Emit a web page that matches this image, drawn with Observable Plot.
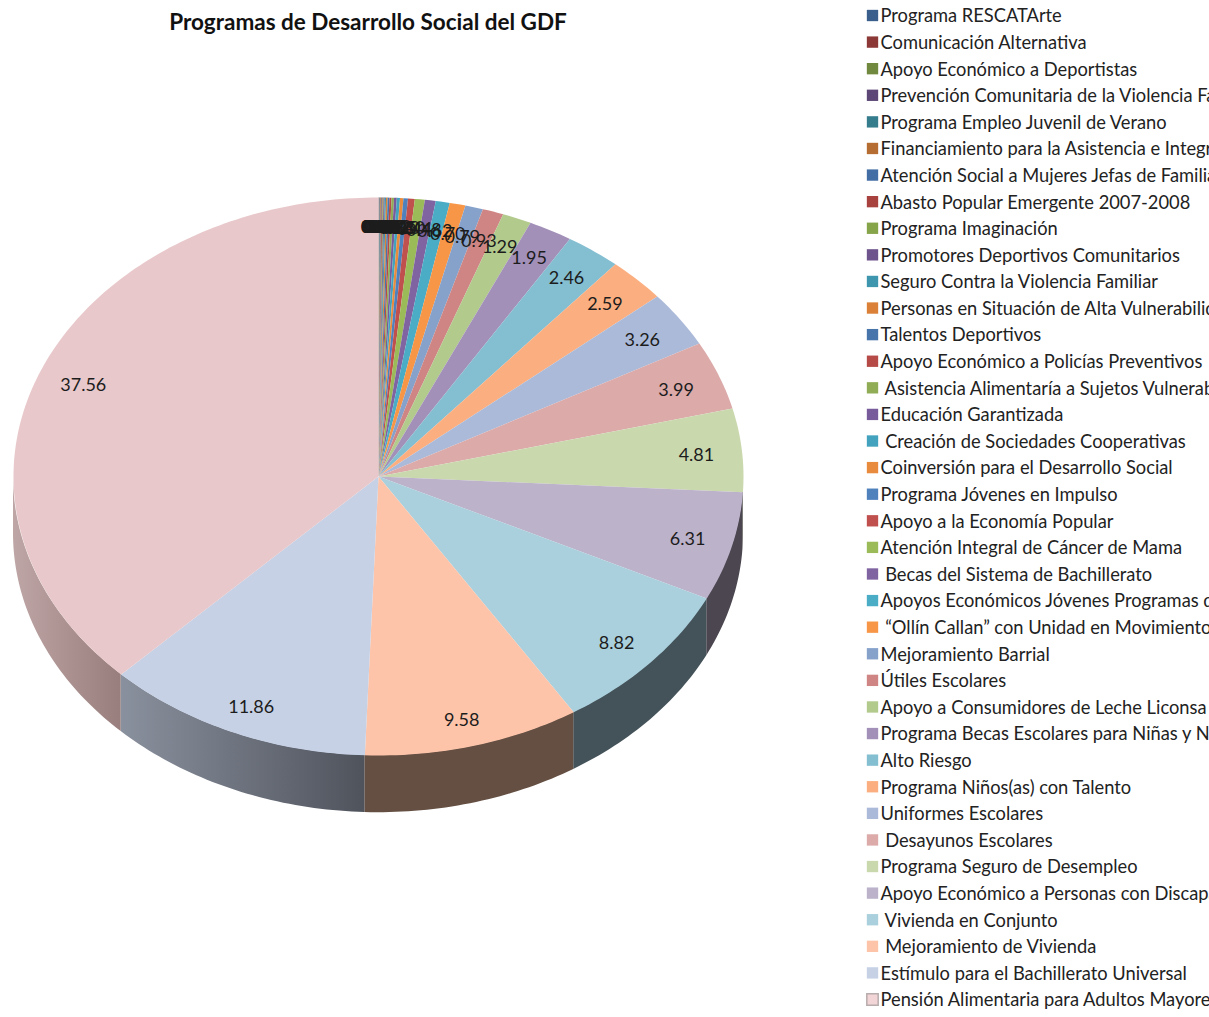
<!DOCTYPE html>
<html lang="es">
<head>
<meta charset="utf-8">
<title>Programas de Desarrollo Social del GDF</title>
<script src="https://cdn.jsdelivr.net/npm/d3@7"></script>
<script src="https://cdn.jsdelivr.net/npm/@observablehq/plot@0.6"></script>
<style>
  html, body { margin: 0; padding: 0; background: #fff; overflow: hidden; }
  #page { position: relative; width: 1209px; height: 1017px; overflow: hidden; }
  #pie { position: absolute; left: 0; top: 0; }
  #legend { position: absolute; left: 860px; top: 0; }
  #title {
    position: absolute; left: 0; top: 8px; width: 736px; margin: 0;
    text-align: center; font: 700 22.5px/28px Lato, sans-serif; color: #111;
  }
</style>
</head>
<body>
<div id="page">
  <div id="pie"></div>
  <h1 id="title">Programas de Desarrollo Social del GDF</h1>
  <div id="legend"></div>
</div>
<script>
// Programs in legend order; slices run clockwise from twelve o'clock in this order.
const programas = [
  "Programa RESCATArte",
  "Comunicación Alternativa",
  "Apoyo Económico a Deportistas",
  "Prevención Comunitaria de la Violencia Familiar",
  "Programa Empleo Juvenil de Verano",
  "Financiamiento para la Asistencia e Integración Social",
  "Atención Social a Mujeres Jefas de Familia",
  "Abasto Popular Emergente 2007-2008",
  "Programa Imaginación",
  "Promotores Deportivos Comunitarios",
  "Seguro Contra la Violencia Familiar",
  "Personas en Situación de Alta Vulnerabilidad",
  "Talentos Deportivos",
  "Apoyo Económico a Policías Preventivos",
  "\u00a0Asistencia Alimentaría a Sujetos Vulnerables",
  "Educación Garantizada",
  "\u00a0Creación de Sociedades Cooperativas",
  "Coinversión para el Desarrollo Social",
  "Programa Jóvenes en Impulso",
  "Apoyo a la Economía Popular",
  "Atención Integral de Cáncer de Mama",
  "\u00a0Becas del Sistema de Bachillerato",
  "Apoyos Económicos Jóvenes Programas de Verano",
  "\u00a0“Ollín Callan” con Unidad en Movimiento",
  "Mejoramiento Barrial",
  "Útiles Escolares",
  "Apoyo a Consumidores de Leche Liconsa",
  "Programa Becas Escolares para Niñas y Niños",
  "Alto Riesgo",
  "Programa Niños(as) con Talento",
  "Uniformes Escolares",
  "\u00a0Desayunos Escolares",
  "Programa Seguro de Desempleo",
  "Apoyo Económico a Personas con Discapacidad",
  "\u00a0Vivienda en Conjunto",
  "\u00a0Mejoramiento de Vivienda",
  "Estímulo para el Bachillerato Universal",
  "Pensión Alimentaria para Adultos Mayores"
];

const valores = [
  0.01, 0.01, 0.02, 0.02, 0.02, 0.03, 0.03, 0.04, 0.04, 0.05,
  0.06, 0.07, 0.08, 0.09, 0.11, 0.12, 0.14, 0.15, 0.20, 0.30,
  0.44, 0.48, 0.62, 0.70, 0.79, 0.93, 1.29, 1.95, 2.46, 2.59,
  3.26, 3.99, 4.81, 6.31, 8.82, 9.58, 11.86, 37.56
];

const colores = [
  "#3a5f8c", "#8c3836", "#71893f", "#5c4776", "#357d8d", "#b66d31", "#426da5", "#a8423f",
  "#86a44a", "#6e548d", "#3d96ae", "#da8137", "#4674ab", "#b54a47", "#90ac55", "#775b9b",
  "#43a2be", "#e98b3c", "#4f81bd", "#c0504d", "#9bbb59", "#8064a2", "#4bacc6", "#f79646",
  "#86a2cb", "#cf8583", "#b2ca8c", "#a290b9", "#84bed1", "#fbaf80", "#abbad9", "#dbaaa9",
  "#cad8ae", "#bcb2ca", "#aad0dd", "#fdc4aa", "#c6d1e6", "#e8c8ca"
];

// Shaded side-wall colours for the slices that reach the front of the disc.
const paredes = new Map([
  ["Programa Seguro de Desempleo", "#5a6150"],
  ["Apoyo Económico a Personas con Discapacidad", "#4b4650"],
  ["\u00a0Vivienda en Conjunto", "#445259"],
  ["\u00a0Mejoramiento de Vivienda", "#644f42"],
  ["Estímulo para el Bachillerato Universal", "url(#paredEstimulo)"],
  ["Pensión Alimentaria para Adultos Mayores", "url(#paredPension)"]
]);
const gradientes = [
  {id: "paredEstimulo", desde: "#8a919e", hasta: "#4f535c"},
  {id: "paredPension", desde: "#bfa6a6", hasta: "#987e7c"}
];

const FUENTE = "Lato, sans-serif";
const GROSOR = 0.205; // wall depth, in units of the vertical radius

const total = d3.sum(valores);
const porciones = [];
let acumulado = 0;
programas.forEach((nombre, i) => {
  const inicio = acumulado / total * 2 * Math.PI;
  acumulado += valores[i];
  const fin = acumulado / total * 2 * Math.PI;
  porciones.push({nombre, valor: valores[i], inicio, fin, medio: (inicio + fin) / 2});
});

// Outline of a slice on the unit circle, sampled along its arc.
const arco = (a, b) => {
  const pasos = Math.max(1, Math.ceil((b - a) / (Math.PI / 180)));
  return d3.range(pasos + 1).map(k => a + (b - a) * k / pasos);
};
const caras = porciones.flatMap(p => [
  {nombre: p.nombre, x: 0, y: 0},
  ...arco(p.inicio, p.fin).map(t => ({nombre: p.nombre, x: Math.sin(t), y: Math.cos(t)}))
]);

// The visible wall covers only the front half of the rim (90 to 270 degrees);
// the pension slice runs past 270 degrees, so its wall stops at the left extreme.
const muros = porciones
  .filter(p => p.fin > Math.PI / 2 && p.inicio < 3 * Math.PI / 2 && paredes.has(p.nombre))
  .map(p => ({
    fill: paredes.get(p.nombre),
    puntos: arco(Math.max(p.inicio, Math.PI / 2), Math.min(p.fin, 3 * Math.PI / 2))
      .map(t => ({x: Math.sin(t), y1: Math.cos(t), y2: Math.cos(t) - GROSOR}))
  }));

// Value labels sit just inside the rim, along each slice's middle angle.
const etiquetas = porciones.map(p => {
  const c = Math.cos(p.medio);
  return {
    x: 0.875 * Math.sin(p.medio),
    y: (0.87 + 0.03 * c * c) * c,
    texto: d3.format(".2f")(p.valor)
  };
});

const defs = () => {
  const d = d3.create("svg:defs");
  for (const g of gradientes) {
    const lg = d.append("linearGradient").attr("id", g.id);
    lg.append("stop").attr("offset", "0%").attr("stop-color", g.desde);
    lg.append("stop").attr("offset", "100%").attr("stop-color", g.hasta);
  }
  return d.node();
};

const escalaColor = {type: "ordinal", domain: programas, range: colores};

document.getElementById("pie").append(Plot.plot({
  width: 860,
  height: 1017,
  margin: 0,
  style: {background: "transparent", fontFamily: FUENTE},
  x: {domain: [-1, 1], range: [13, 743], axis: null},
  y: {domain: [-1, 1], range: [755, 197], axis: null},
  color: escalaColor,
  marks: [
    defs,
    ...muros.map(m => Plot.area(m.puntos, {x1: "x", y1: "y1", y2: "y2", fill: m.fill})),
    Plot.line(caras, {x: "x", y: "y", z: "nombre", fill: "nombre", stroke: "none", curve: "linear"}),
    Plot.text(etiquetas, {
      x: "x", y: "y", text: "texto", dy: 2,
      fontSize: 18, fill: "#1c1c1c", fontFamily: FUENTE
    })
  ]
}));

document.getElementById("legend").append(Plot.plot({
  width: 349,
  height: 1017,
  margin: 0,
  style: {background: "transparent", fontFamily: FUENTE},
  y: {type: "point", domain: programas, range: [16, 1000], padding: 0, round: false, axis: null},
  color: escalaColor,
  marks: [
    Plot.dot(programas, {
      y: d => d, fill: d => d, symbol: "square", r: 6.4,
      frameAnchor: "left", dx: 12, dy: -1
    }),
    // The last swatch carries a thin outline.
    Plot.dot(programas.slice(-1), {
      y: d => d, fill: "#f2d5d7", stroke: "#b8acac", symbol: "square", r: 6.4,
      frameAnchor: "left", dx: 12, dy: -1
    }),
    Plot.text(programas, {
      y: d => d, text: d => d, frameAnchor: "left", textAnchor: "start",
      dx: 20, fontSize: 18.3, fill: "#222", fontFamily: FUENTE
    })
  ]
}));
</script>
</body>
</html>
